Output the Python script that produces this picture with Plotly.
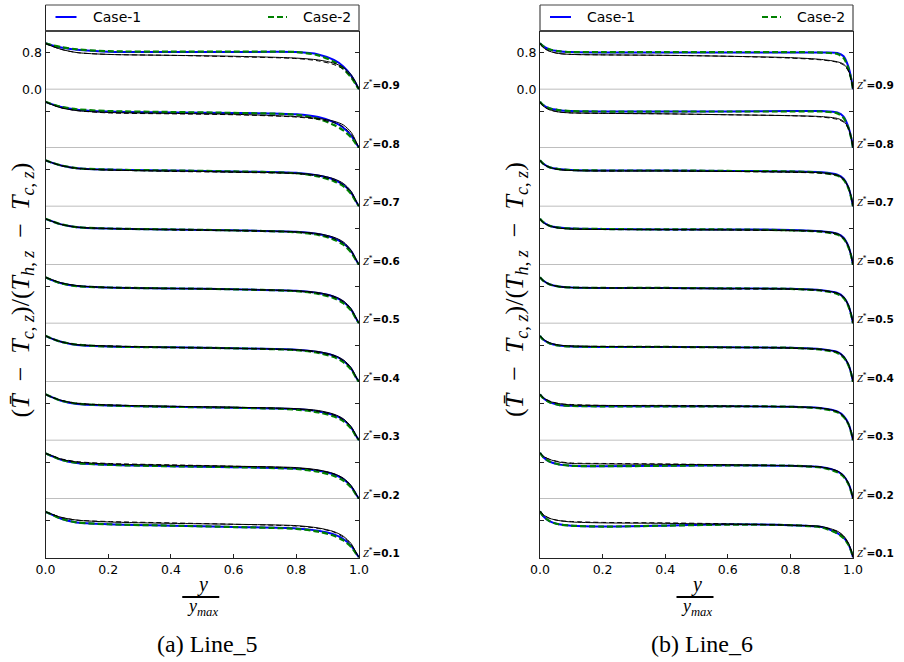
import plotly.graph_objects as go

# ---------------- data ----------------
Z_LABELS = ["0.1", "0.2", "0.3", "0.4", "0.5", "0.6", "0.7", "0.8", "0.9"]

# x grid (y / y_max) for Line_5 and Line_6
XL = [0, 0.02, 0.05, 0.1, 0.2, 0.4, 0.6, 0.8, 0.87, 0.92, 0.95, 0.975, 0.99, 1.0]
XR = [0, 0.01, 0.03, 0.06, 0.1, 0.2, 0.4, 0.6, 0.8, 0.9, 0.95, 0.97, 0.985, 0.995, 1.0]

# Line_5 : rows ordered Z*=0.1 ... 0.9
L5_CASE1 = [
    [0.99, 0.93, 0.84, 0.76, 0.72, 0.69, 0.66, 0.63, 0.58, 0.50, 0.40, 0.25, 0.10, 0.0],
    [0.99, 0.93, 0.85, 0.78, 0.74, 0.71, 0.69, 0.66, 0.61, 0.53, 0.43, 0.27, 0.11, 0.0],
    [1.00, 0.94, 0.86, 0.79, 0.76, 0.73, 0.71, 0.68, 0.63, 0.55, 0.45, 0.28, 0.11, 0.0],
    [1.00, 0.94, 0.87, 0.80, 0.77, 0.75, 0.73, 0.70, 0.65, 0.57, 0.46, 0.29, 0.11, 0.0],
    [1.00, 0.94, 0.87, 0.81, 0.78, 0.76, 0.74, 0.71, 0.66, 0.58, 0.47, 0.30, 0.12, 0.0],
    [1.00, 0.95, 0.88, 0.82, 0.79, 0.77, 0.75, 0.72, 0.67, 0.58, 0.47, 0.30, 0.12, 0.0],
    [1.00, 0.95, 0.89, 0.83, 0.80, 0.78, 0.76, 0.73, 0.67, 0.58, 0.47, 0.30, 0.12, 0.0],
    [1.00, 0.95, 0.89, 0.83, 0.79, 0.77, 0.76, 0.73, 0.67, 0.56, 0.44, 0.27, 0.11, 0.0],
    [1.00, 0.96, 0.91, 0.86, 0.82, 0.81, 0.81, 0.81, 0.76, 0.64, 0.50, 0.30, 0.13, 0.0],
]
L5_CASE2 = [
    [0.99, 0.93, 0.84, 0.76, 0.72, 0.69, 0.66, 0.62, 0.56, 0.47, 0.37, 0.23, 0.09, 0.0],
    [0.99, 0.93, 0.85, 0.78, 0.74, 0.71, 0.69, 0.65, 0.59, 0.50, 0.40, 0.25, 0.10, 0.0],
    [1.00, 0.94, 0.86, 0.80, 0.76, 0.73, 0.71, 0.67, 0.61, 0.52, 0.42, 0.26, 0.10, 0.0],
    [1.00, 0.94, 0.87, 0.81, 0.77, 0.75, 0.73, 0.69, 0.63, 0.54, 0.43, 0.27, 0.10, 0.0],
    [1.00, 0.94, 0.87, 0.81, 0.78, 0.76, 0.74, 0.70, 0.64, 0.55, 0.44, 0.28, 0.11, 0.0],
    [1.00, 0.95, 0.88, 0.82, 0.79, 0.77, 0.75, 0.71, 0.65, 0.55, 0.44, 0.27, 0.11, 0.0],
    [1.00, 0.95, 0.89, 0.83, 0.80, 0.78, 0.76, 0.72, 0.65, 0.55, 0.44, 0.27, 0.11, 0.0],
    [1.00, 0.95, 0.89, 0.84, 0.80, 0.78, 0.76, 0.72, 0.63, 0.50, 0.38, 0.23, 0.09, 0.0],
    [1.00, 0.96, 0.92, 0.87, 0.83, 0.82, 0.82, 0.81, 0.74, 0.60, 0.45, 0.26, 0.11, 0.0],
]
L5_REF_SOLID = [
    [0.99, 0.94, 0.87, 0.81, 0.77, 0.74, 0.72, 0.69, 0.64, 0.56, 0.46, 0.30, 0.12, 0.0],
    [0.99, 0.94, 0.86, 0.80, 0.76, 0.73, 0.71, 0.68, 0.63, 0.55, 0.45, 0.29, 0.12, 0.0],
    [1.00, 0.94, 0.87, 0.80, 0.77, 0.74, 0.72, 0.69, 0.65, 0.57, 0.47, 0.30, 0.12, 0.0],
    [1.00, 0.94, 0.87, 0.81, 0.78, 0.75, 0.73, 0.70, 0.66, 0.58, 0.48, 0.31, 0.12, 0.0],
    [1.00, 0.95, 0.88, 0.82, 0.78, 0.76, 0.74, 0.71, 0.67, 0.59, 0.49, 0.32, 0.13, 0.0],
    [1.00, 0.95, 0.88, 0.82, 0.79, 0.77, 0.75, 0.72, 0.68, 0.60, 0.50, 0.32, 0.13, 0.0],
    [1.00, 0.95, 0.89, 0.83, 0.79, 0.77, 0.75, 0.72, 0.68, 0.60, 0.50, 0.33, 0.13, 0.0],
    [1.00, 0.94, 0.87, 0.81, 0.77, 0.75, 0.73, 0.68, 0.64, 0.58, 0.50, 0.34, 0.15, 0.0],
    [1.00, 0.94, 0.87, 0.80, 0.76, 0.74, 0.72, 0.68, 0.64, 0.57, 0.48, 0.32, 0.15, 0.0],
]
L5_REF_DASH = [
    [0.99, 0.94, 0.87, 0.81, 0.78, 0.75, 0.72, 0.68, 0.63, 0.55, 0.44, 0.28, 0.11, 0.0],
    [0.99, 0.94, 0.87, 0.81, 0.77, 0.74, 0.71, 0.67, 0.62, 0.54, 0.44, 0.28, 0.11, 0.0],
    [1.00, 0.94, 0.87, 0.81, 0.77, 0.74, 0.72, 0.68, 0.63, 0.55, 0.45, 0.29, 0.11, 0.0],
    [1.00, 0.94, 0.87, 0.81, 0.78, 0.75, 0.73, 0.69, 0.64, 0.56, 0.46, 0.29, 0.11, 0.0],
    [1.00, 0.95, 0.88, 0.82, 0.78, 0.76, 0.74, 0.70, 0.65, 0.57, 0.47, 0.30, 0.12, 0.0],
    [1.00, 0.95, 0.88, 0.82, 0.79, 0.76, 0.74, 0.71, 0.66, 0.57, 0.47, 0.30, 0.12, 0.0],
    [1.00, 0.95, 0.88, 0.82, 0.79, 0.76, 0.74, 0.71, 0.66, 0.57, 0.47, 0.30, 0.12, 0.0],
    [1.00, 0.94, 0.87, 0.81, 0.76, 0.74, 0.72, 0.67, 0.62, 0.55, 0.46, 0.30, 0.13, 0.0],
    [1.00, 0.94, 0.87, 0.80, 0.76, 0.74, 0.71, 0.67, 0.62, 0.54, 0.44, 0.28, 0.12, 0.0],
]

# Line_6 : rows ordered Z*=0.1 ... 0.9
L6_CASE1 = [
    [1.00, 0.90, 0.79, 0.72, 0.69, 0.67, 0.69, 0.72, 0.70, 0.66, 0.53, 0.43, 0.29, 0.12, 0.0],
    [1.00, 0.91, 0.81, 0.75, 0.72, 0.71, 0.72, 0.73, 0.72, 0.69, 0.60, 0.50, 0.34, 0.15, 0.0],
    [1.00, 0.92, 0.83, 0.77, 0.75, 0.74, 0.74, 0.74, 0.73, 0.70, 0.63, 0.53, 0.37, 0.16, 0.0],
    [1.00, 0.92, 0.84, 0.79, 0.77, 0.76, 0.76, 0.75, 0.74, 0.71, 0.65, 0.55, 0.38, 0.17, 0.0],
    [1.00, 0.93, 0.85, 0.80, 0.78, 0.77, 0.77, 0.76, 0.75, 0.72, 0.66, 0.57, 0.40, 0.17, 0.0],
    [1.00, 0.93, 0.85, 0.81, 0.79, 0.78, 0.77, 0.77, 0.76, 0.73, 0.68, 0.59, 0.41, 0.18, 0.0],
    [1.00, 0.93, 0.85, 0.81, 0.79, 0.78, 0.78, 0.77, 0.76, 0.74, 0.69, 0.60, 0.42, 0.18, 0.0],
    [1.00, 0.93, 0.86, 0.82, 0.80, 0.79, 0.79, 0.79, 0.80, 0.80, 0.77, 0.68, 0.46, 0.20, 0.0],
    [1.00, 0.94, 0.87, 0.83, 0.81, 0.80, 0.80, 0.80, 0.80, 0.80, 0.79, 0.72, 0.50, 0.22, 0.0],
]
L6_CASE2 = [
    [1.00, 0.90, 0.79, 0.72, 0.69, 0.67, 0.69, 0.71, 0.70, 0.65, 0.52, 0.42, 0.28, 0.12, 0.0],
    [1.00, 0.91, 0.81, 0.75, 0.72, 0.71, 0.72, 0.73, 0.72, 0.68, 0.58, 0.48, 0.33, 0.14, 0.0],
    [1.00, 0.92, 0.83, 0.77, 0.75, 0.74, 0.74, 0.74, 0.73, 0.69, 0.61, 0.51, 0.36, 0.15, 0.0],
    [1.00, 0.92, 0.84, 0.79, 0.77, 0.76, 0.76, 0.75, 0.74, 0.70, 0.63, 0.53, 0.37, 0.16, 0.0],
    [1.00, 0.93, 0.85, 0.80, 0.78, 0.77, 0.77, 0.76, 0.75, 0.71, 0.64, 0.55, 0.38, 0.16, 0.0],
    [1.00, 0.93, 0.85, 0.81, 0.79, 0.78, 0.77, 0.77, 0.75, 0.72, 0.66, 0.57, 0.39, 0.17, 0.0],
    [1.00, 0.93, 0.85, 0.81, 0.79, 0.78, 0.78, 0.77, 0.76, 0.73, 0.67, 0.58, 0.40, 0.17, 0.0],
    [1.00, 0.93, 0.86, 0.82, 0.80, 0.79, 0.79, 0.79, 0.79, 0.79, 0.75, 0.65, 0.44, 0.19, 0.0],
    [1.00, 0.94, 0.87, 0.83, 0.81, 0.81, 0.81, 0.81, 0.81, 0.80, 0.77, 0.68, 0.46, 0.20, 0.0],
]
L6_REF_SOLID = [
    [1.00, 0.93, 0.85, 0.80, 0.77, 0.75, 0.74, 0.72, 0.70, 0.67, 0.57, 0.47, 0.32, 0.14, 0.0],
    [1.00, 0.93, 0.86, 0.80, 0.77, 0.76, 0.75, 0.74, 0.72, 0.69, 0.61, 0.51, 0.35, 0.15, 0.0],
    [1.00, 0.93, 0.85, 0.80, 0.77, 0.76, 0.75, 0.74, 0.73, 0.70, 0.63, 0.53, 0.37, 0.16, 0.0],
    [1.00, 0.93, 0.85, 0.80, 0.78, 0.77, 0.76, 0.75, 0.74, 0.71, 0.65, 0.56, 0.39, 0.17, 0.0],
    [1.00, 0.93, 0.85, 0.80, 0.78, 0.77, 0.77, 0.76, 0.75, 0.72, 0.66, 0.58, 0.41, 0.18, 0.0],
    [1.00, 0.92, 0.85, 0.80, 0.78, 0.77, 0.77, 0.76, 0.75, 0.73, 0.68, 0.59, 0.42, 0.18, 0.0],
    [1.00, 0.92, 0.85, 0.80, 0.78, 0.77, 0.77, 0.76, 0.75, 0.73, 0.68, 0.60, 0.43, 0.19, 0.0],
    [1.00, 0.91, 0.83, 0.78, 0.76, 0.75, 0.74, 0.72, 0.70, 0.68, 0.64, 0.58, 0.44, 0.20, 0.0],
    [1.00, 0.91, 0.83, 0.78, 0.76, 0.75, 0.74, 0.72, 0.69, 0.65, 0.60, 0.55, 0.42, 0.20, 0.0],
]
L6_REF_DASH = [
    [1.00, 0.93, 0.85, 0.80, 0.78, 0.76, 0.75, 0.73, 0.70, 0.66, 0.56, 0.45, 0.30, 0.13, 0.0],
    [1.00, 0.93, 0.86, 0.81, 0.78, 0.77, 0.76, 0.74, 0.72, 0.69, 0.60, 0.50, 0.34, 0.15, 0.0],
    [1.00, 0.93, 0.86, 0.80, 0.78, 0.76, 0.76, 0.75, 0.73, 0.70, 0.62, 0.52, 0.36, 0.16, 0.0],
    [1.00, 0.93, 0.85, 0.80, 0.78, 0.77, 0.76, 0.75, 0.73, 0.70, 0.64, 0.54, 0.38, 0.16, 0.0],
    [1.00, 0.93, 0.85, 0.80, 0.78, 0.77, 0.76, 0.75, 0.74, 0.71, 0.65, 0.56, 0.39, 0.17, 0.0],
    [1.00, 0.92, 0.85, 0.80, 0.78, 0.77, 0.76, 0.76, 0.74, 0.72, 0.66, 0.57, 0.40, 0.17, 0.0],
    [1.00, 0.92, 0.85, 0.80, 0.78, 0.77, 0.77, 0.76, 0.74, 0.72, 0.67, 0.58, 0.41, 0.18, 0.0],
    [1.00, 0.91, 0.83, 0.78, 0.76, 0.75, 0.74, 0.72, 0.70, 0.67, 0.62, 0.56, 0.42, 0.19, 0.0],
    [1.00, 0.91, 0.83, 0.78, 0.76, 0.75, 0.74, 0.72, 0.68, 0.64, 0.59, 0.53, 0.40, 0.18, 0.0],
]

X_TICKS = [0.0, 0.2, 0.4, 0.6, 0.8, 1.0]
Y_TICKS = [0.0, 0.8]
CAPTIONS = ["(a) Line_5", "(b) Line_6"]
SERIES_NAMES = ["Case-1", "Case-2"]

# ---------------- layout helpers ----------------
W, H = 904, 662
PANEL_PX = [(45.5, 359.0), (540.0, 853.0)]
TOP_PX, BOT_PX = 31.0, 557.5
LEG_TOP_PX = 5.0
STRIP = (BOT_PX - TOP_PX) / 9
Y_MAX = 1.267

def px_x(v):
    return v / W

def px_y(v):
    return 1 - v / H

SANS = "DejaVu Sans"
SERIF = "Liberation Serif"
AX_COL = "#222222"

fig = go.Figure()
shapes = []
annotations = []

panels = [
    (XL, L5_CASE1, L5_CASE2, L5_REF_SOLID, L5_REF_DASH),
    (XR, L6_CASE1, L6_CASE2, L6_REF_SOLID, L6_REF_DASH),
]

for p, (xs, c1, c2, k1, k2) in enumerate(panels):
    x0p, x1p = PANEL_PX[p]
    xdom = [px_x(x0p), px_x(x1p)]
    for r in range(9):  # r=0 top strip (Z*=0.9)
        zi = 8 - r
        n = p * 9 + r + 1
        sx = "" if n == 1 else str(n)
        xa, ya = "x" + sx, "y" + sx
        ytop = TOP_PX + r * STRIP
        ybot = ytop + STRIP
        ydom = [px_y(ybot), px_y(ytop)]
        bottom = (r == 8)
        fig.update_layout({
            "xaxis" + sx: dict(
                domain=xdom, anchor=ya, range=[0, 1], automargin=False,
                showgrid=False, zeroline=False,
                showline=bottom, linecolor=AX_COL, linewidth=1,
                ticks="inside" if bottom else "", ticklen=4, tickcolor=AX_COL,
                tickvals=X_TICKS, ticktext=[f"{v:.1f}" for v in X_TICKS],
                showticklabels=bottom,
                tickfont=dict(family=SANS, size=12.5, color="black"),
            ),
            "yaxis" + sx: dict(
                domain=ydom, anchor=xa, range=[0, Y_MAX], automargin=False,
                showgrid=False, zeroline=False,
                showline=True, linecolor=AX_COL, linewidth=1, mirror="ticks",
                ticks="inside", ticklen=4, tickcolor=AX_COL,
                tickvals=Y_TICKS, ticktext=[f"{v:.1f}" for v in Y_TICKS],
                showticklabels=(r == 0),
                tickfont=dict(family=SANS, size=12.5, color="black"),
            ),
        })
        if not bottom:
            shapes.append(dict(type="line", xref=xa + " domain", yref=ya,
                               x0=0, x1=1, y0=0, y1=0, layer="below",
                               line=dict(color="#a8a8a8", width=1.5)))
        fig.add_trace(go.Scatter(x=xs, y=c1[zi], mode="lines", xaxis=xa, yaxis=ya,
                                 line=dict(color="#0000ff", width=2, shape="spline", smoothing=0.8),
                                 showlegend=False))
        fig.add_trace(go.Scatter(x=xs, y=c2[zi], mode="lines", xaxis=xa, yaxis=ya,
                                 line=dict(color="#008000", width=2.2, dash="6px,3px",
                                           shape="spline", smoothing=0.8),
                                 showlegend=False))
        fig.add_trace(go.Scatter(x=xs, y=k1[zi], mode="lines", xaxis=xa, yaxis=ya,
                                 line=dict(color="black", width=1, shape="spline", smoothing=0.8),
                                 showlegend=False))
        fig.add_trace(go.Scatter(x=xs, y=k2[zi], mode="lines", xaxis=xa, yaxis=ya,
                                 line=dict(color="black", width=1, dash="5px,3px",
                                           shape="spline", smoothing=0.8),
                                 showlegend=False))
        annotations.append(dict(
            xref=xa + " domain", x=1.0, xanchor="left", xshift=2,
            yref=ya, y=0, yanchor="middle", yshift=5,
            text=f'<span style="font-family:{SERIF}"><i>Z</i><sup>*</sup></span><b>={Z_LABELS[zi]}</b>',
            showarrow=False, font=dict(family=SANS, size=10.5, color="black")))

    # legend box (frame parts above the strips)
    shapes.append(dict(type="line", xref="paper", yref="paper",
                       x0=px_x(x0p), x1=px_x(x0p), y0=px_y(TOP_PX), y1=px_y(LEG_TOP_PX),
                       line=dict(color=AX_COL, width=1)))
    shapes.append(dict(type="line", xref="paper", yref="paper",
                       x0=px_x(x1p), x1=px_x(x1p), y0=px_y(TOP_PX), y1=px_y(LEG_TOP_PX),
                       line=dict(color=AX_COL, width=1)))
    shapes.append(dict(type="line", xref="paper", yref="paper",
                       x0=px_x(x0p), x1=px_x(x1p), y0=px_y(LEG_TOP_PX), y1=px_y(LEG_TOP_PX),
                       line=dict(color="#444444", width=1)))
    shapes.append(dict(type="line", xref="paper", yref="paper",
                       x0=px_x(x0p), x1=px_x(x1p), y0=px_y(TOP_PX), y1=px_y(TOP_PX),
                       line=dict(color="#444444", width=2)))
    ly = px_y(17)
    shapes.append(dict(type="line", xref="paper", yref="paper",
                       x0=px_x(x0p + 10), x1=px_x(x0p + 31), y0=ly, y1=ly,
                       line=dict(color="#0000ff", width=2)))
    shapes.append(dict(type="line", xref="paper", yref="paper",
                       x0=px_x(x1p - 91), x1=px_x(x1p - 72), y0=ly, y1=ly,
                       line=dict(color="#008000", width=2.2, dash="6px,3px")))
    annotations.append(dict(xref="paper", yref="paper", x=px_x(x0p + 45), y=ly,
                            xanchor="left", yanchor="middle", text=SERIES_NAMES[0],
                            showarrow=False, font=dict(family=SANS, size=14, color="black")))
    annotations.append(dict(xref="paper", yref="paper", x=px_x(x1p - 6), y=ly,
                            xanchor="right", yanchor="middle", text=SERIES_NAMES[1],
                            showarrow=False, font=dict(family=SANS, size=14, color="black")))

    # y-axis title
    annotations.append(dict(
        xref="paper", yref="paper", x=px_x(x0p - 24), y=px_y(290),
        xanchor="center", yanchor="middle", textangle=-90, showarrow=False,
        text="(<i>T\u0304</i>\u2002\u2212\u2002<i>T</i><sub><i>c</i>, <i>z</i></sub>)/(<i>T</i><sub><i>h</i>, <i>z</i></sub>\u2002\u2212\u2002<i>T</i><sub><i>c</i>, <i>z</i></sub>)",
        font=dict(family=SERIF, size=26, color="black")))

    # x-axis title as a fraction
    cx = (x0p + x1p) / 2
    annotations.append(dict(xref="paper", yref="paper", x=px_x(cx), y=px_y(584),
                            xanchor="center", yanchor="middle", showarrow=False,
                            text="<i>y</i>", font=dict(family=SERIF, size=20, color="black")))
    shapes.append(dict(type="line", xref="paper", yref="paper",
                       x0=px_x(cx - 20), x1=px_x(cx + 17), y0=px_y(597), y1=px_y(597),
                       line=dict(color="black", width=2)))
    annotations.append(dict(xref="paper", yref="paper", x=px_x(cx), y=px_y(607),
                            xanchor="center", yanchor="middle", showarrow=False,
                            text="<i>y</i><sub><i>max</i></sub>",
                            font=dict(family=SERIF, size=18, color="black")))

    # caption
    annotations.append(dict(xref="paper", yref="paper", x=px_x(cx + 5), y=px_y(644),
                            xanchor="center", yanchor="middle", showarrow=False,
                            text=CAPTIONS[p], font=dict(family=SERIF, size=24, color="black")))

fig.update_layout(
    width=W, height=H,
    margin=dict(l=0, r=0, t=0, b=0, autoexpand=False),
    paper_bgcolor="white", plot_bgcolor="white",
    showlegend=False,
    shapes=shapes, annotations=annotations,
)

fig.write_html("out.html")
